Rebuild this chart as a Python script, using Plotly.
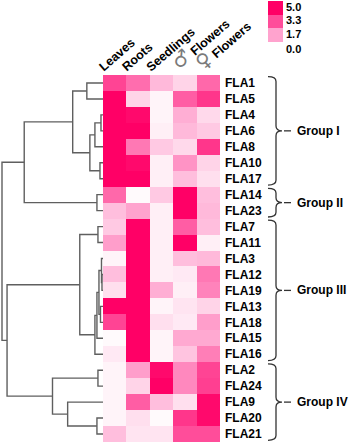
import plotly.graph_objects as go

# ---------------- data ----------------
genes = ["FLA1", "FLA5", "FLA4", "FLA6", "FLA8", "FLA10", "FLA17", "FLA14", "FLA23",
         "FLA7", "FLA11", "FLA3", "FLA12", "FLA19", "FLA13", "FLA18", "FLA15", "FLA16",
         "FLA2", "FLA24", "FLA9", "FLA20", "FLA21"]
tissues = ["Leaves", "Roots", "Seedlings", "♂ Flowers", "♀ Flowers"]

leaves    = [3.5, 5.0, 5.0, 5.0, 5.0, 5.0, 5.0, 2.8, 1.2, 1.0, 1.8, 0.2, 1.2, 0.6, 5.0, 3.5, 0.1, 0.4, 0.2, 0.2, 0.2, 0.2, 1.2]
roots     = [2.7, 0.8, 4.8, 5.0, 2.5, 4.8, 5.0, 0.1, 1.7, 5.0, 5.0, 5.0, 5.0, 5.0, 5.0, 5.0, 5.0, 5.0, 1.8, 0.8, 3.0, 0.6, 0.5]
seedlings = [1.3, 0.2, 0.2, 0.3, 1.0, 0.3, 0.3, 1.0, 0.3, 0.3, 0.3, 0.3, 0.3, 1.5, 0.2, 0.6, 0.2, 0.2, 4.8, 5.0, 1.2, 0.1, 0.5]
male_fl   = [0.8, 3.0, 1.5, 1.3, 0.7, 2.0, 1.2, 5.0, 5.0, 3.0, 5.0, 1.2, 0.4, 0.3, 0.5, 0.4, 1.6, 1.1, 2.2, 2.2, 0.6, 3.8, 3.3]
female_fl = [2.8, 3.8, 0.7, 1.0, 3.8, 0.8, 0.6, 1.2, 1.3, 1.2, 0.3, 1.3, 2.5, 2.3, 0.8, 1.8, 1.6, 2.4, 3.5, 3.6, 4.8, 4.8, 3.3]

# hierarchical clustering (children, merge height)
link_left   = ["FLA1", "FLA4", "M1", "FLA10", "M2", "M0", "FLA14", "M5", "FLA7", "FLA12", "FLA3",
               "FLA13", "M10", "M12", "M13", "M8", "FLA2", "FLA20", "FLA9", "M16", "M15", "M7"]
link_right  = ["FLA5", "FLA6", "FLA8", "FLA17", "M3", "M4", "FLA23", "M6", "FLA11", "FLA19", "M9",
               "FLA18", "M11", "FLA15", "FLA16", "M14", "FLA24", "FLA21", "M17", "M18", "M19", "M20"]
link_height = [0.16, 0.02, 0.08, 0.03, 0.13, 0.30, 0.06, 0.78, 0.05, 0.01, 0.015,
               0.025, 0.04, 0.06, 0.08, 0.23, 0.05, 0.06, 0.35, 0.50, 0.95, 1.00]

groups = ["Group I", "Group II", "Group III", "Group IV"]
group_first = ["FLA1", "FLA14", "FLA7", "FLA2"]
group_last = ["FLA17", "FLA23", "FLA16", "FLA21"]

legend_vals = [5.0, 3.3, 1.7, 0.0]

# ---------------- layout helpers ----------------
W, H = 358, 445
def px(x):
    return x / W
def py(y):
    return 1 - y / H

colorscale = [[0.0, "#FFFFFF"], [0.33, "#FFA6D0"], [0.66, "#FF4D9A"], [1.0, "#FF0066"]]
z = [[leaves[i], roots[i], seedlings[i], male_fl[i], female_fl[i]] for i in range(len(genes))]
rows = list(range(len(genes)))

fig = go.Figure()
fig.add_trace(go.Heatmap(z=z, x=list(range(len(tissues))), y=rows, colorscale=colorscale,
                         zmin=0, zmax=5, showscale=False, hoverinfo="skip",
                         xaxis="x", yaxis="y"))

# dendrogram
pos = {g: (float(i), 0.0) for i, g in enumerate(genes)}
dx, dy = [], []
for k, (a, b, h) in enumerate(zip(link_left, link_right, link_height)):
    ya, ha = pos[a]
    yb, hb = pos[b]
    dx += [ha, h, h, hb, None]
    dy += [ya, ya, yb, yb, None]
    pos["M%d" % k] = ((ya + yb) / 2, h)
fig.add_trace(go.Scatter(x=dx, y=dy, mode="lines", line=dict(color="#5f5f5f", width=1.4),
                         hoverinfo="skip", xaxis="x2", yaxis="y2", showlegend=False))

# colour key
fig.add_trace(go.Heatmap(z=[[legend_vals[2]], [legend_vals[1]], [legend_vals[0]]], x=[0], y=[0, 1, 2],
                         colorscale=colorscale, zmin=0, zmax=5, showscale=False,
                         hoverinfo="skip", xaxis="x3", yaxis="y3"))

ydom = [py(442), py(75)]
bold = dict(family="Arial, Liberation Sans, sans-serif", size=12, color="black", weight="bold")

fig.update_layout(
    width=W, height=H, margin=dict(l=0, r=0, t=0, b=0, autoexpand=False),
    paper_bgcolor="white", plot_bgcolor="white", showlegend=False,
    xaxis=dict(domain=[px(103), px(220)], range=[-0.5, 4.5], showticklabels=False,
               showgrid=False, zeroline=False, ticks="", automargin=False),
    yaxis=dict(domain=ydom, range=[22.5, -0.5], side="right", tickvals=rows, ticktext=genes,
               tickfont=bold, showgrid=False, zeroline=False, ticks="", ticklabelstandoff=4,
               automargin=False),
    xaxis2=dict(domain=[0, px(103)], range=[1.0 + 2 / 101, 0], visible=False, automargin=False),
    yaxis2=dict(domain=ydom, range=[22.5, -0.5], visible=False, anchor="x2", automargin=False),
    xaxis3=dict(domain=[px(268), px(283)], range=[-0.5, 0.5], visible=False, automargin=False),
    yaxis3=dict(domain=[py(42), py(1)], range=[-0.5, 2.5], visible=False, anchor="x3",
                automargin=False),
)

ann = []
# column headers
for i, t in enumerate(tissues):
    txt = t
    if t.startswith("♂") or t.startswith("♀"):
        txt = ("<span style='color:#7a7a7a;font-weight:normal;font-family:DejaVu Sans;"
               "font-size:20px'>%s</span>%s" % (t[0], t[1:]))
    ann.append(dict(text=txt, x=i, y=py(77), xref="x", yref="paper", xanchor="left",
                    yanchor="bottom", xshift=-21, textangle=-41, showarrow=False,
                    font=dict(bold, size=12.5)))
# colour key labels
for j, v in enumerate(legend_vals):
    yv = max(2 - j, 0)
    ann.append(dict(text="%.1f" % v, x=px(284), y=yv, xref="paper", yref="y3", xanchor="left",
                    yanchor="middle", yshift=1 - (15 if j == 3 else 0), showarrow=False,
                    font=dict(family="Arial, Liberation Sans, sans-serif", size=11, color="black", weight="bold")))

shapes = []
for g, a, b in zip(groups, group_first, group_last):
    y0 = genes.index(a) - 0.4
    y1 = genes.index(b) + 0.4
    ym = (y0 + y1) / 2
    r = 0.3
    x0, x1, x2 = px(268), px(276), px(282)
    path = ("M %f,%f Q %f,%f %f,%f L %f,%f Q %f,%f %f,%f Q %f,%f %f,%f L %f,%f Q %f,%f %f,%f" %
            (x0, y0, x1, y0, x1, y0 + r, x1, ym - r, x1, ym, x2, ym, x1, ym, x1, ym + r,
             x1, y1 - r, x1, y1, x0, y1))
    shapes.append(dict(type="path", path=path, xref="paper", yref="y",
                       line=dict(color="#333", width=1.3)))
    shapes.append(dict(type="line", x0=px(284), x1=px(291), y0=ym, y1=ym, xref="paper", yref="y",
                       line=dict(color="#333", width=1.3)))
    ann.append(dict(text=g, x=px(295), y=ym, xref="paper", yref="y", xanchor="left",
                    yanchor="middle", showarrow=False, font=bold))

fig.update_layout(annotations=ann, shapes=shapes)
fig.write_html("out.html", config={"displayModeBar": False},
               post_script="document.body.style.margin='0';document.body.style.padding='0';")
